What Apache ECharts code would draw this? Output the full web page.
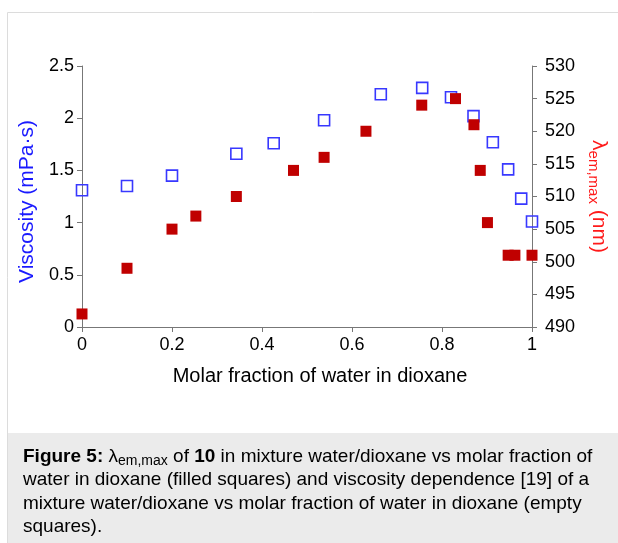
<!DOCTYPE html>
<html>
<head>
<meta charset="utf-8">
<script src="https://cdn.jsdelivr.net/npm/echarts@6/dist/echarts.min.js"></script>
<style>
  html, body { margin: 0; padding: 0; background: #fff; }
  #chart { width: 618px; height: 543px; }
</style>
</head>
<body>
<div id="chart"></div>
<script>
// viscosity (empty squares, left axis)
var xVisc = [0, 0.1, 0.2, 0.343, 0.426, 0.538, 0.664, 0.756, 0.82, 0.87, 0.913, 0.947, 0.976, 1.0];
var viscosity = [1.31, 1.35, 1.45, 1.66, 1.76, 1.98, 2.23, 2.29, 2.20, 2.02, 1.77, 1.51, 1.23, 1.01];

// lambda em,max (filled squares, right axis)
var xLambda = [0, 0.1, 0.2, 0.253, 0.343, 0.47, 0.538, 0.631, 0.755, 0.83, 0.871, 0.885, 0.901, 0.947, 0.962, 1.0];
var lambdaMax = [492, 499, 505, 507, 510, 514, 516, 520, 524, 525, 521, 514, 506, 501, 501, 501];

var xTicks = [0, 0.2, 0.4, 0.6, 0.8, 1];
var leftTicks = [0, 0.5, 1, 1.5, 2, 2.5];
var rightTicks = [490, 495, 500, 505, 510, 515, 520, 525, 530];

var FONT = '"Liberation Sans", Arial, sans-serif';

function pairs(xs, ys) {
  return xs.map(function (x, i) { return [x, ys[i]]; });
}

var chart = echarts.init(document.getElementById('chart'));

var tickStyle = { show: true, length: 5, lineStyle: { color: '#777' } };

var option = {
  animation: false,
  backgroundColor: '#fff',
  textStyle: { fontFamily: FONT },
  grid: { left: 82, right: 86, top: 66, bottom: 216 },
  xAxis: {
    type: 'value',
    min: 0, max: 1, interval: 0.2,
    name: 'Molar fraction of water in dioxane',
    nameLocation: 'middle',
    nameGap: 39,
    nameTextStyle: { color: '#000', fontSize: 20, fontFamily: FONT, padding: [0, 0, 0, 26] },
    axisLine: { lineStyle: { color: '#777', width: 1 } },
    axisTick: tickStyle,
    splitLine: { show: false },
    axisLabel: {
      color: '#000', fontSize: 18, margin: 9, fontFamily: FONT,
      formatter: function (v) { return xTicks.indexOf(+v.toFixed(1)) >= 0 ? String(+v.toFixed(1)) : ''; }
    }
  },
  yAxis: [{
    type: 'value',
    position: 'left',
    min: 0, max: 2.5, interval: 0.5,
    name: 'Viscosity (mPa·s)',
    nameLocation: 'middle',
    nameGap: 35,
    nameTextStyle: { color: '#1a1aff', fontSize: 21, fontFamily: FONT, padding: [0, 10, 0, 0] },
    axisLine: { show: true, lineStyle: { color: '#777' } },
    axisTick: tickStyle,
    splitLine: { show: false },
    axisLabel: {
      color: '#000', fontSize: 18, margin: 8, fontFamily: FONT,
      formatter: function (v) { return leftTicks.indexOf(+v.toFixed(1)) >= 0 ? String(+v.toFixed(1)) : ''; }
    }
  }, {
    type: 'value',
    position: 'right',
    min: 490, max: 530, interval: 5,
    name: '{a|λ}{s|em,max}{a| (nm)}',
    nameLocation: 'middle',
    nameGap: 50,
    nameRotate: -90,
    nameTextStyle: {
      color: '#ff1a1a',
      rich: {
        a: { color: '#ff1a1a', fontSize: 21, lineHeight: 26, fontFamily: FONT },
        s: { color: '#ff1a1a', fontSize: 15, lineHeight: 15, verticalAlign: 'bottom', fontFamily: FONT }
      }
    },
    axisLine: { show: true, lineStyle: { color: '#777' } },
    axisTick: tickStyle,
    splitLine: { show: false },
    axisLabel: {
      color: '#000', fontSize: 18, margin: 13, fontFamily: FONT,
      formatter: function (v) { return rightTicks.indexOf(Math.round(v)) >= 0 ? String(Math.round(v)) : ''; }
    }
  }],
  series: [{
    name: 'Viscosity',
    type: 'scatter',
    yAxisIndex: 0,
    symbol: 'rect',
    symbolSize: 11,
    itemStyle: { color: 'rgba(255,255,255,0)', borderColor: '#3838ff', borderWidth: 1.6, opacity: 1 },
    data: pairs(xVisc, viscosity)
  }, {
    name: 'λem,max',
    type: 'scatter',
    yAxisIndex: 1,
    symbol: 'rect',
    symbolSize: 11,
    itemStyle: { color: '#c00000', opacity: 1 },
    data: pairs(xLambda, lambdaMax)
  }],
  graphic: [
    // frame lines
    { type: 'line', shape: { x1: 7.5, y1: 12.5, x2: 618, y2: 12.5 }, style: { stroke: '#dcdcdc', lineWidth: 1 } },
    { type: 'line', shape: { x1: 7.5, y1: 12.5, x2: 7.5, y2: 543 }, style: { stroke: '#dcdcdc', lineWidth: 1 } },
    // caption box
    { type: 'rect', shape: { x: 8, y: 433, width: 610, height: 110 }, style: { fill: '#ebebeb' } },
    {
      type: 'text',
      left: 23, top: 447,
      style: {
        text: [
          '{b|Figure 5:}{n| λ}{s|em,max}{n| of }{b|10}{n| in mixture water/dioxane vs molar fraction of}',
          '{n|water in dioxane (filled squares) and viscosity dependence [19] of a}',
          '{n|mixture water/dioxane vs molar fraction of water in dioxane (empty}',
          '{n|squares).}'
        ].join('\n'),
        rich: {
          b: { fontSize: 19, fontWeight: 'bold', lineHeight: 23.5, fill: '#000', fontFamily: FONT },
          n: { fontSize: 19, lineHeight: 23.5, fill: '#000', fontFamily: FONT },
          s: { fontSize: 14, lineHeight: 14, verticalAlign: 'bottom', fill: '#000', fontFamily: FONT }
        }
      }
    }
  ]
};

chart.setOption(option);
</script>
</body>
</html>
